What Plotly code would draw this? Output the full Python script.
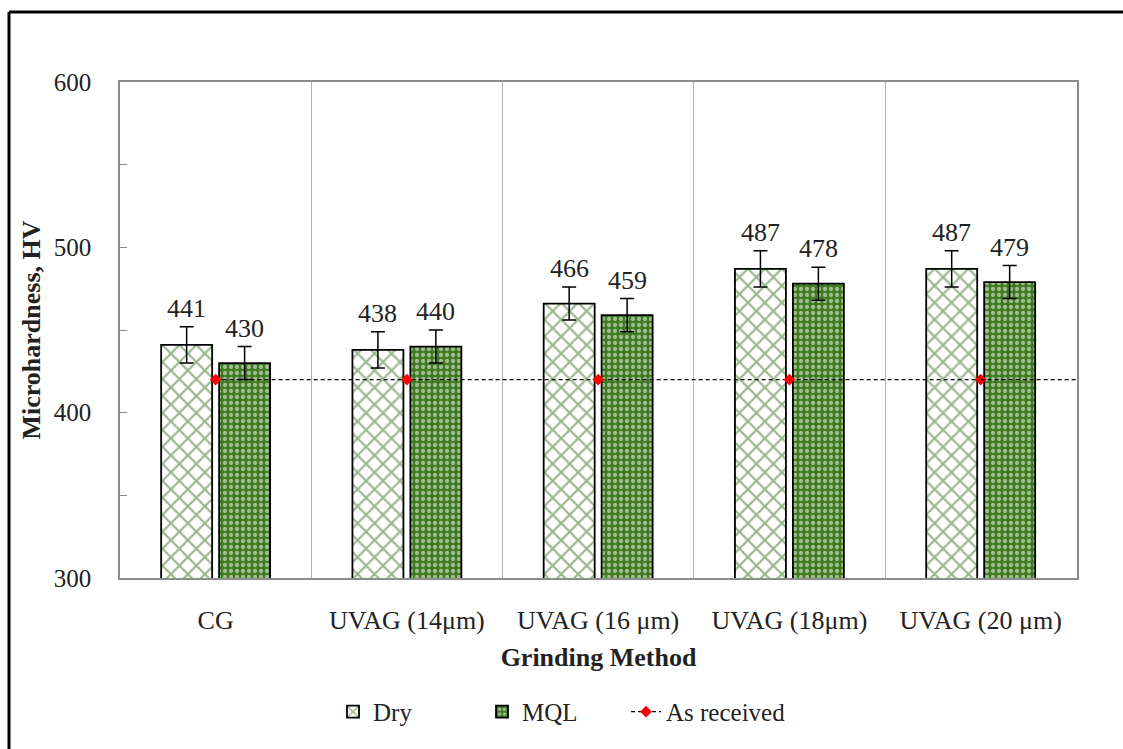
import plotly.graph_objects as go

categories = ["CG", "UVAG (14μm)", "UVAG (16 μm)", "UVAG (18μm)", "UVAG (20 μm)"]
dry_values = [441, 438, 466, 487, 487]
mql_values = [430, 440, 459, 478, 479]
dry_errors = [11, 11, 10, 11, 11]
mql_errors = [10, 10, 10, 10, 10]
as_received = [420, 420, 420, 420, 420]
y_ticks = [300, 400, 500, 600]

FONT = "Liberation Serif, serif"
W, H = 1123, 749
M_L, M_R, M_T, M_B = 120, 46, 82, 171
BARGAP = 0.394
BARGROUPGAP = 0.12

fig = go.Figure()

fig.add_trace(go.Bar(
    name="Dry", x=categories, y=dry_values, legend="legend",
    error_y=dict(type="data", array=dry_errors, color="black", thickness=1.5, width=7),
    marker=dict(color="white", line=dict(color="black", width=1.8),
                pattern=dict(shape="x", fgcolor="#2f6e1c", bgcolor="white", size=12, solidity=0.33)),
))
fig.add_trace(go.Bar(
    name="MQL", x=categories, y=mql_values, legend="legend",
    error_y=dict(type="data", array=mql_errors, color="black", thickness=1.5, width=7),
    marker=dict(color="#3f7a22", line=dict(color="black", width=1.8),
                pattern=dict(shape=".", fgcolor="white", bgcolor="#3f7a22", size=6, solidity=0.4)),
))
fig.add_trace(go.Scatter(
    name="As received", x=categories, y=as_received, mode="lines+markers", legend="legend2",
    line=dict(color="black", width=1.4, dash="4px,3px"),
    marker=dict(symbol="diamond", color="red", size=9),
))
# extension of the dashed line to the plot edge
fig.add_shape(type="line", xref="x", yref="y", x0=len(categories) - 1, x1=len(categories) - 0.5,
              y0=as_received[-1], y1=as_received[-1],
              line=dict(color="black", width=1.4, dash="4px,3px"), layer="above")

# value labels above error bars
plot_w = W - M_L - M_R
cat_w = plot_w / len(categories)
slot = cat_w * (1 - BARGAP) / 2
shift = slot / 2
for i, c in enumerate(categories):
    for val, err, sgn in ((dry_values[i], dry_errors[i], -1), (mql_values[i], mql_errors[i], 1)):
        fig.add_annotation(x=c, y=val + err, text=str(val), showarrow=False,
                           xshift=sgn * shift, yshift=2, yanchor="bottom",
                           font=dict(family=FONT, size=26, color="#222"))

# outer border (left and top)
fig.add_shape(type="line", xref="paper", yref="paper",
              x0=(9 - M_L) / plot_w, x1=(W - M_L) / plot_w + 0.1,
              y0=1 + (M_T - 12) / (H - M_T - M_B), y1=1 + (M_T - 12) / (H - M_T - M_B),
              line=dict(color="black", width=3))
fig.add_shape(type="line", xref="paper", yref="paper",
              x0=(9 - M_L) / plot_w, x1=(9 - M_L) / plot_w,
              y0=-1, y1=1 + (M_T - 12) / (H - M_T - M_B),
              line=dict(color="black", width=3))

legend_style = dict(orientation="h", y=-0.27, yanchor="middle", xanchor="left",
                    font=dict(family=FONT, size=25, color="#222"), itemwidth=30,
                    traceorder="normal", bgcolor="rgba(0,0,0,0)")

fig.update_layout(
    width=W, height=H,
    margin=dict(l=M_L, r=M_R, t=M_T, b=M_B),
    paper_bgcolor="white", plot_bgcolor="white",
    barmode="group", bargap=BARGAP, bargroupgap=BARGROUPGAP,
    font=dict(family=FONT, size=25, color="#222"),
    showlegend=True,
    legend=dict(legend_style, x=(373 - 40 - M_L) / plot_w, entrywidth=104),
    legend2=dict(legend_style, x=(666 - 40 - M_L) / plot_w),
)
fig.update_xaxes(
    tickson="boundaries", showgrid=True, gridcolor="#b0b0b0", gridwidth=1.3,
    showline=True, linecolor="#8c8c8c", linewidth=1.5, mirror=True,
    ticks="", ticklabelstandoff=18,
    tickfont=dict(family=FONT, size=26, color="#222"),
    title=dict(text="<b>Grinding Method</b>", font=dict(family=FONT, size=26, color="#222"), standoff=14),
)
fig.update_yaxes(
    range=[300, 600], tickvals=y_ticks, ticks="inside", ticklen=7, tickcolor="#8c8c8c",
    minor=dict(dtick=50, ticks="inside", ticklen=7, tickcolor="#8c8c8c"),
    showgrid=False, zeroline=False,
    showline=True, linecolor="#8c8c8c", linewidth=1.5, mirror=True,
    ticklabelstandoff=22,
    title=dict(text="<b>Microhardness, HV</b>", font=dict(family=FONT, size=26, color="#222"), standoff=6),
)

fig.write_html("out.html")
